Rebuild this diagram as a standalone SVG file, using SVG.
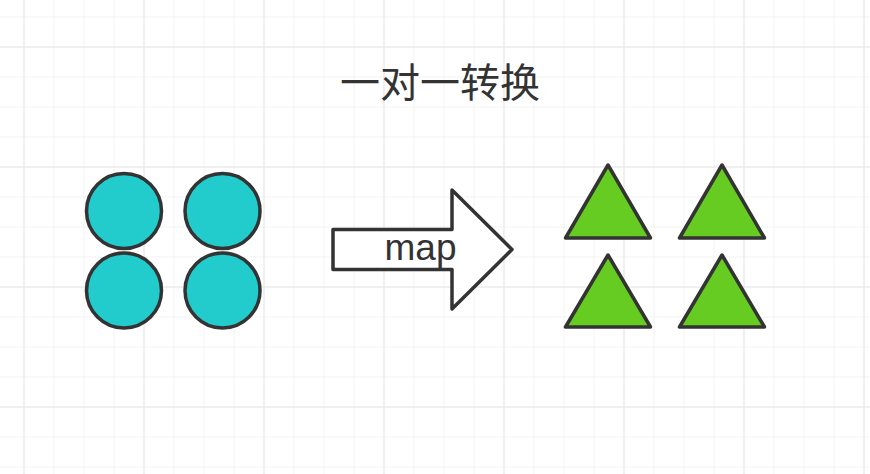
<svg xmlns="http://www.w3.org/2000/svg" width="870" height="474" viewBox="0 0 870 474">
<defs>
<pattern id="minor" x="23.5" y="16.5" width="30" height="30" patternUnits="userSpaceOnUse">
<path d="M0 0V30M0 0H30" fill="none" stroke="#f2f2f2" stroke-width="2"/>
</pattern>
<pattern id="major" x="23.5" y="46.5" width="120" height="120" patternUnits="userSpaceOnUse">
<path d="M0 0V120M0 0H120" fill="none" stroke="#e6e6e6" stroke-width="2"/>
</pattern>
</defs>
<style>
.circle{fill:#22CCCC;stroke:#333333;stroke-width:3.5}
.tri{fill:#66CC22;stroke:#333333;stroke-width:3.5;stroke-linejoin:round}
.arrow{fill:#ffffff;stroke:#333333;stroke-width:3.5;stroke-linejoin:round}
.title{font-family:"Noto Sans CJK SC","Noto Sans",sans-serif;font-size:40px;fill:#333333}
.label{font-family:"Liberation Sans",Arial,sans-serif;font-size:37px;fill:#333333}
</style>
<rect width="870" height="474" fill="#ffffff"/>
<rect width="870" height="474" fill="url(#minor)"/>
<rect width="870" height="474" fill="url(#major)"/>
<g id="title"><text class="title" x="440" y="97" text-anchor="middle">一对一转换</text></g>
<g id="circles">
<circle class="circle" cx="124" cy="211" r="37.5"/>
<circle class="circle" cx="222.5" cy="211" r="37.5"/>
<circle class="circle" cx="124" cy="290.5" r="37.5"/>
<circle class="circle" cx="222.5" cy="290.5" r="37.5"/>
</g>
<g id="connectors">
<g id="map-arrow">
<polygon class="arrow" points="333,229.5 452,229.5 452,190 512,249.5 452,309 452,269.5 333,269.5"/>
<text class="label" x="420.5" y="260" text-anchor="middle">map</text>
</g>
</g>
<g id="triangles">
<polygon class="tri" points="608,165 565.5,238 650.5,238"/>
<polygon class="tri" points="722,165 679.5,238 764.5,238"/>
<polygon class="tri" points="608,255 565.5,327 650.5,327"/>
<polygon class="tri" points="722,255 679.5,327 764.5,327"/>
</g>
</svg>
